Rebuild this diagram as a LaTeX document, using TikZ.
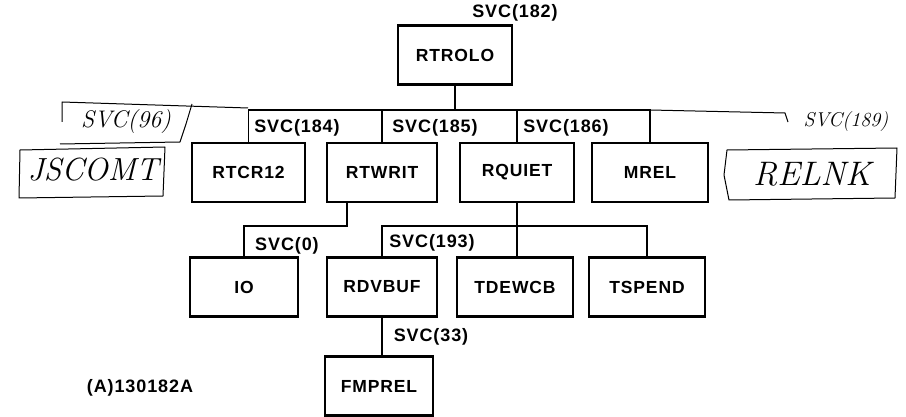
\documentclass[tikz,border=0pt]{standalone}
\usepackage{fontspec}
\newfontfamily\boxfont{Liberation Sans}[LetterSpace=5]
\usetikzlibrary{calc}
\tikzset{
  box/.style={draw, line width=2.4pt, minimum width=#1, minimum height=59pt, inner sep=0pt, font=\boxfont\bfseries\fontsize{17.5}{19}\selectfont},
  box/.default=114pt,
  lbl/.style={inner sep=0pt, font=\boxfont\bfseries\fontsize{18}{20}\selectfont},
  wire/.style={line width=1.6pt},
  hand/.style={line width=1pt, line join=round},
  scrawl/.style={inner sep=0pt, font=\itshape}
}
\begin{document}
\begin{tikzpicture}[x=1pt, y=-1pt]
\useasboundingbox (0,0) rectangle (906,417);
% boxes
\node[box] (rtrolo) at (455,55) {RTROLO};
\node[box=113pt] (rtcr) at (248.5,172.5) {RTCR12};
\node[box=110pt] (rtwrit) at (382,172.5) {RTWRIT};
\node[box] (rquiet) at (517,172.5) {RQUIET};
\node[box=116pt] (mrel) at (650,172.5) {MREL};
\node[box=108pt] (io) at (244,287) {IO};
\node[box=110pt] (rdvbuf) at (382,287) {RDVBUF};
\node[box=116pt] (tdewcb) at (515,287) {TDEWCB};
\node[box=116pt] (tspend) at (647,287) {TSPEND};
\node[box=108pt] (fmprel) at (379,386) {FMPREL};
\coordinate (bus) at (0,110);
\coordinate (qbus) at (0,226);
% connectors
\draw[wire] (rtrolo.south) -- (rtrolo.south |- bus);
\draw[wire] (rtcr.north) -- (rtcr.north |- bus) -- (mrel.north |- bus) -- (mrel.north);
\foreach \n in {rtwrit,rquiet} {
  \draw[wire] (\n.north) -- (\n.north |- bus);
}
\draw[wire] ([xshift=21pt]rtwrit.south west) -- ++(0,23) -| (io.north);
\draw[wire] (rquiet.south) -- (rquiet.south |- tdewcb.north);
\draw[wire] (rdvbuf.north) -- (rdvbuf.north |- qbus) -- (tspend.north |- qbus) -- (tspend.north);
\draw[wire] (rdvbuf.south) -- (rdvbuf.south |- fmprel.north);
% labels
\node[lbl] (l182) at (515,13) {SVC(182)};
\node[lbl] (l184) at (297,128) {SVC(184)};
\node[lbl] (l185) at (435,128) {SVC(185)};
\node[lbl] (l186) at (566,128) {SVC(186)};
\node[lbl] (l0) at (287,246) {SVC(0)};
\node[lbl] (l193) at (432,243) {SVC(193)};
\node[lbl] (l33) at (431,337) {SVC(33)};
\node[lbl] (tag) at (140,388) {(A)130182A};
% handwritten notes
\draw[hand] (62,122) -- (62,102) -- (248,108);
\draw[hand] (192,104) -- (186,124) -- (180,142) -- (60,144);
\node[scrawl, font=\itshape\fontsize{24}{26}\selectfont] (n96) at (126,122) {SVC(96)};
\draw[hand] (20,150) -- (165,147) -- (163,196) -- (19,198) -- cycle;
\node[scrawl, font=\itshape\fontsize{32}{34}\selectfont] (jscomt) at (93,170) {JSCOMT};
\draw[hand] (mrel.north |- bus) -- (785,113) -- (788,122);
\node[scrawl, font=\itshape\fontsize{20}{22}\selectfont] (n189) at (846,122) {SVC(189)};
\draw[hand] (727,150) -- (897,148) -- (895,198) -- (729,200) -- (724,175) -- cycle;
\node[scrawl, font=\itshape\fontsize{34}{36}\selectfont] (relnk) at (812,174) {RELNK};
\end{tikzpicture}
\end{document}
